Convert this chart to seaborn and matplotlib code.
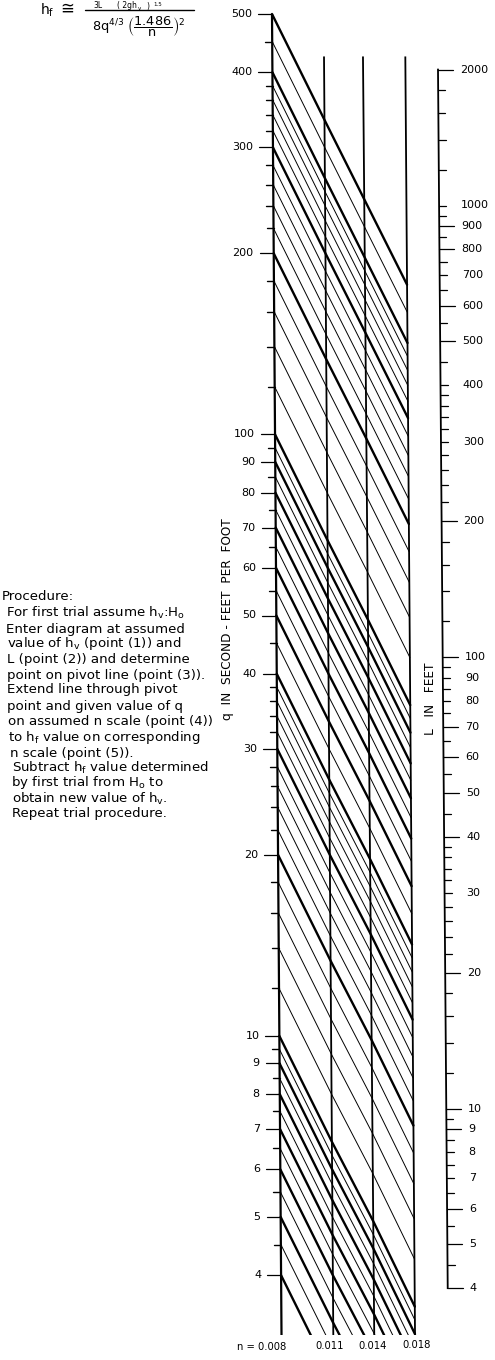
import numpy as np
import pandas as pd
import matplotlib
matplotlib.use("Agg")
import matplotlib.pyplot as plt
import seaborn as sns

Q_HEAVY = [500, 400, 300, 200, 100, 90, 80, 70, 60, 50, 40, 30, 20, 10, 9, 8, 7, 6, 5, 4]
Q_LIGHT = [450, 380, 360, 340, 320, 280, 260, 240, 220, 180, 160, 140, 120,
           95, 85, 75, 65, 55, 45, 38, 36, 34, 32, 28, 26, 24, 22, 18, 16, 14, 12,
           9.5, 8.5, 7.5, 6.5, 5.5, 4.5]
# decades of q that a line drops between n = 0.008 and each n scale
N_LABELS = ["n = 0.008", "0.011", "0.014", "0.018"]
N_DROP = [0.0, 0.176, 0.308, 0.450]
# L scale
L_LABELED = [2000, 1000, 900, 800, 700, 600, 500, 400, 300, 200, 100, 90, 80, 70, 60,
             50, 40, 30, 20, 10, 9, 8, 7, 6, 5, 4]
L_MINOR = [1800, 1600, 1400, 1200, 950, 850, 750, 650, 550, 450, 380, 360, 340, 320,
           280, 260, 240, 220, 180, 160, 140, 120, 95, 85, 75, 65, 55, 45, 38, 36, 34,
           32, 28, 26, 24, 22, 18, 16, 14, 12, 9.5, 8.5, 7.5, 6.5, 5.5, 4.5]
L_LONG = [2000, 900, 800, 600, 500, 200, 100, 70, 60, 50, 40, 20, 10, 9, 6, 5, 4]

PROCEDURE = [
    (2, 597, "Procedure:"),
    (6, 613, r"For first trial assume h$_{\mathregular{v}}$:H$_{\mathregular{o}}$"),
    (6, 629, "Enter diagram at assumed"),
    (7, 644, r"value of h$_{\mathregular{v}}$ (point (1)) and"),
    (7, 659, "L (point (2)) and determine"),
    (7, 675, "point on pivot line (point (3))."),
    (7, 690, "Extend line through pivot"),
    (7, 706, "point and given value of q"),
    (8, 722, "on assumed n scale (point (4))"),
    (8, 737, r"to h$_{\mathregular{f}}$ value on corresponding"),
    (10, 754, "n scale (point (5))."),
    (12, 768, r"Subtract h$_{\mathregular{f}}$ value determined"),
    (11, 783, r"by first trial from H$_{\mathregular{o}}$ to"),
    (12, 799, r"obtain new value of h$_{\mathregular{v}}$."),
    (12, 814, "Repeat trial procedure."),
]

# ---- layout of the scales ----
W, H, BOTTOM = 495, 1360, 1335
Q_PX_DECADE, Q_TOP_PX = 601.5, 14          # 500 sits at pixel 14
L_PX_DECADE, L100_PX = 451.5, 657          # 100 sits at pixel 657
N_X = [272.0, 323.7, 362.6, 405.0]         # x of each n scale where q = 500
N_TILT = [4.33, 4.37, 5.3, 4.56]           # x drift per decade
N_TOP = [500, 425, 425, 425]
L_X, L_TILT = 438.0, 3.6                   # L axis, x at L = 2000 and drift per decade


def x_on_n(i, q):
    return N_X[i] + N_TILT[i] * np.log10(500.0 / np.asarray(q, dtype=float))


def x_on_l(val):
    return L_X + L_TILT * np.log10(2000.0 / np.asarray(val, dtype=float))


rows = []
for weight, qs in (("heavy", Q_HEAVY), ("light", Q_LIGHT)):
    for q0 in qs:
        for i, drop in enumerate(N_DROP):
            q = q0 * 10 ** (-drop)
            rows.append({"q0": q0, "weight": weight, "x": float(x_on_n(i, q)), "q": q})
df = pd.DataFrame(rows)

sns.set_theme(style="white")
plt.rcParams["font.family"] = ["DejaVu Sans"]
plt.rcParams["mathtext.fontset"] = "dejavusans"
plt.rcParams["text.color"] = "black"

fig = plt.figure(figsize=(W / 100, H / 100), dpi=100, facecolor="white")
ax = fig.add_axes([0, (H - BOTTOM) / H, 1, BOTTOM / H])
ax.set_yscale("log")

sns.lineplot(data=df, x="x", y="q", units="q0", estimator=None, sort=False,
             size="weight", sizes={"heavy": 1.7, "light": 0.7}, color="black",
             legend=False, ax=ax)
ax.set_xlim(0, W)
ax.set_ylim(500 * 10 ** (-(BOTTOM - Q_TOP_PX) / Q_PX_DECADE), 500 * 10 ** (Q_TOP_PX / Q_PX_DECADE))
ax.axis("off")

# n scales
qlow = ax.get_ylim()[0]
for i, top in enumerate(N_TOP):
    ax.plot([x_on_n(i, top), x_on_n(i, qlow)], [top, qlow], color="black",
            lw=1.6 if i == 0 else 1.3, solid_capstyle="butt")

# q ticks
for q in Q_HEAVY:
    x = x_on_n(0, q)
    ax.plot([x - 14, x], [q, q], color="black", lw=0.9)
    ax.text(x - 20, q, f"{q}", ha="right", va="center", fontsize=8, color="black")
for q in Q_LIGHT:
    x = x_on_n(0, q)
    ax.plot([x - 7, x], [q, q], color="black", lw=1.0)

# L scale on a twin log axis
ax2 = ax.twinx()
ax2.set_yscale("log")
ax2.set_xlim(0, W)
ax2.set_ylim(100 * 10 ** ((L100_PX - BOTTOM) / L_PX_DECADE), 100 * 10 ** (L100_PX / L_PX_DECADE))
ax2.axis("off")
ax2.plot([x_on_l(2000), x_on_l(4)], [2000, 4], color="black", lw=1.3, solid_capstyle="projecting")
for val in L_LABELED + L_MINOR:
    x = x_on_l(val)
    ln = 15 if val in L_LONG else 7
    ax2.plot([x, x + ln], [val, val], color="black", lw=0.9)
for val in L_LABELED:
    ax2.text(x_on_l(val) + 22, val, f"{val}", ha="left", va="center", fontsize=8, color="black")


def px(x, y):
    """Figure-pixel placement for free-standing lettering."""
    return x / W, 1 - y / H


# n scale names
for label, x, y in zip(N_LABELS, (262, 330, 373, 417), (1347, 1346, 1346, 1345)):
    fig.text(*px(x, y), label, ha="center", va="center", fontsize=7.2)

# rotated axis titles
fig.text(*px(228, 619), "q  IN  SECOND - FEET  PER  FOOT", rotation=90, ha="center", va="center", fontsize=8.7)
fig.text(*px(430, 699), "L   IN   FEET", rotation=90, ha="center", va="center", fontsize=8.7)

# procedure
for x, y, s in PROCEDURE:
    fig.text(*px(x, y), s, ha="left", va="center", fontsize=9.6)

# formula
fig.text(*px(40, 10), r"h$_{\mathregular{f}}$", ha="left", va="center", fontsize=10)
fig.text(*px(60, 9), "\u2245", ha="left", va="center", fontsize=12)
fig.text(*px(93, 8.5), "3L", ha="left", va="baseline", fontsize=5.5)
fig.text(*px(117, 8.5), "( 2gh", ha="left", va="baseline", fontsize=5.5)
fig.text(*px(138, 9.5), "v", ha="left", va="baseline", fontsize=4)
fig.text(*px(146, 8.5), ")", ha="left", va="baseline", fontsize=5.5)
fig.text(*px(153, 6.5), "1.5", ha="left", va="baseline", fontsize=4)
fig.add_artist(plt.Line2D([85 / W, 194 / W], [1 - 10 / H, 1 - 10 / H], color="black", lw=1.0))
fig.text(*px(92, 27), r"$\mathregular{8q}^{\mathregular{4/3}}\ \left(\dfrac{\mathregular{1.486}}{\mathregular{n}}\right)^{\mathregular{2}}$", ha="left", va="center", fontsize=9.3)

fig.savefig("out.png", dpi=100)
